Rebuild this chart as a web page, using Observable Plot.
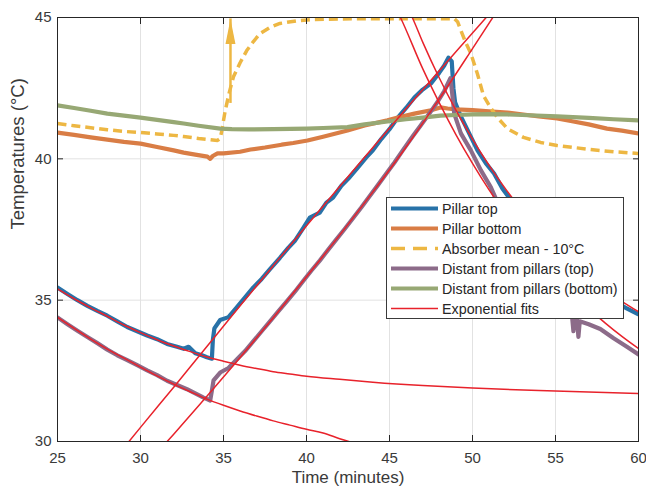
<!DOCTYPE html>
<html><head><meta charset="utf-8">
<script src="https://cdn.jsdelivr.net/npm/d3@7"></script>
<script src="https://cdn.jsdelivr.net/npm/@observablehq/plot@0.6"></script>
<style>
html,body{margin:0;padding:0;background:#fff;}
#chart{position:relative;width:646px;height:492px;font-family:"Liberation Sans",Arial,Helvetica,sans-serif;}
#legend{position:absolute;left:386px;top:197px;width:238px;height:122px;box-sizing:border-box;border:1px solid #3a3a3a;background:#fff;}
#legend svg{display:block;}
</style></head><body><div id="chart"></div>
<script>
// ---------- labels / ticks ----------
const xLabel = "Time (minutes)";
const yLabel = "Temperatures (°C)";
const xTicks = [25, 30, 35, 40, 45, 50, 55, 60];
const yTicks = [30, 35, 40, 45];
const seriesNames = ["Pillar top", "Pillar bottom", "Absorber mean - 10°C", "Distant from pillars (top)", "Distant from pillars (bottom)", "Exponential fits"];
const seriesColors = ["#2872a8", "#d97d45", "#edb743", "#8c6b89", "#97a874", "#e8222b"];

// ---------- Pillar top ----------
const pillarTopT = [25.0,25.6,26.2,26.8,27.4,28.0,28.6,29.2,29.8,30.4,31.0,31.6,32.2,32.6,32.9,33.3,33.7,34.0,34.3,34.36,34.45,34.8,35.3,35.8,36.3,36.8,37.3,37.8,38.4,38.9,39.3,39.8,40.2,40.8,41.2,41.6,42.1,42.6,43.1,43.6,44.0,44.5,45.0,45.5,46.0,46.5,47.0,47.5,48.0,48.3,48.55,48.75,48.85,48.95,49.3,49.8,50.3,50.8,51.3,51.8,52.2,53.0,54.0,55.0,56.0,57.0,58.0,59.2,60.0];
const pillarTopV = [35.45,35.22,35.0,34.8,34.62,34.45,34.25,34.05,33.9,33.75,33.62,33.45,33.35,33.28,33.35,33.12,33.05,32.98,32.93,33.6,34.0,34.3,34.4,34.75,35.1,35.45,35.75,36.1,36.5,36.85,37.1,37.55,37.92,38.1,38.45,38.63,39.05,39.35,39.7,40.05,40.3,40.7,41.05,41.46,41.8,42.17,42.45,42.67,43.05,43.3,43.58,43.45,42.5,42.0,41.5,40.9,40.3,39.85,39.48,38.95,38.63,38.0,37.3,36.6,36.05,35.55,35.15,34.74,34.5];

// ---------- Pillar bottom ----------
const pillarBottomT = [25,26,27,28,29,30,31,32,32.6,33.3,34.03,34.2,34.35,34.64,35,36,36.63,37.5,38.5,39.2,40.06,41,42.47,43.5,44.88,45.5,46.5,47.5,48.07,48.5,49,50,51,52.1,53.3,54,55.1,56,57,58.1,59,60];
const pillarBottomV = [40.93,40.85,40.76,40.68,40.6,40.54,40.42,40.3,40.22,40.15,40.08,40.0,40.1,40.19,40.19,40.25,40.33,40.4,40.5,40.56,40.65,40.78,41.0,41.18,41.36,41.46,41.6,41.72,41.82,41.78,41.75,41.72,41.68,41.64,41.55,41.5,41.43,41.33,41.22,41.07,41.0,40.9];

// ---------- Absorber mean - 10 °C ----------
const absorberT = [25,26,27,28,29,30,31,32,32.6,33.5,34.64,34.8,34.9,35.1,35.35,35.6,36.0,36.4,36.8,37.2,37.8,38.4,39.4,40.4,42,44,46,48.9,49.1,49.3,49.6,49.9,50.3,50.66,51.1,51.5,52.1,53.07,54.1,55.1,56.1,57.1,58.5,60];
const absorberV = [41.25,41.17,41.1,41.03,40.97,40.93,40.88,40.83,40.79,40.72,40.65,40.72,41.0,41.7,42.35,42.9,43.4,43.83,44.15,44.43,44.65,44.79,44.88,44.93,44.95,44.96,44.96,44.96,44.85,44.54,44.1,43.73,43.0,42.24,41.8,41.46,41.07,40.76,40.58,40.47,40.4,40.33,40.25,40.19];

// ---------- Distant from pillars (top) ----------
const distTopT = [25.0,25.6,26.2,26.8,27.4,28.0,28.6,29.2,29.8,30.4,31.0,31.6,32.2,32.8,33.3,33.8,34.2,34.3,34.4,34.8,35.3,35.8,36.3,36.8,37.3,37.8,38.3,38.8,39.3,39.8,40.3,40.8,41.3,41.8,42.3,42.8,43.3,43.8,44.3,44.8,45.3,45.8,46.4,46.9,47.4,47.9,48.3,48.67,48.8,48.9,49.3,49.9,50.5,51.1,51.4,52.0,53.0,54.0,55.0,55.7,56.0,56.08,56.15,56.3,56.38,56.46,57.0,57.7,58.5,59.3,60.0];
const distTopV = [34.39,34.15,33.92,33.7,33.48,33.25,33.05,32.88,32.7,32.52,32.35,32.15,32.0,31.85,31.7,31.55,31.45,31.8,32.16,32.44,32.6,32.9,33.2,33.55,33.9,34.25,34.6,34.95,35.3,35.68,36.05,36.4,36.78,37.15,37.52,37.9,38.28,38.68,39.07,39.47,39.87,40.3,40.8,41.2,41.6,42.02,42.4,42.85,42.2,41.6,40.9,40.3,39.6,39.0,38.6,38.0,37.1,36.3,35.5,34.9,34.4,33.9,34.35,34.3,33.7,34.25,34.15,33.98,33.65,33.35,33.08];

// ---------- Distant from pillars (bottom) ----------
const distBottomT = [25,26,27,28,29,30,31,32,32.6,33.5,34.8,35.5,36.5,38,40.06,41,42.47,43.5,44.88,46,47,48.07,49,50,51,52.1,53,55.1,57,58.5,60];
const distBottomV = [41.89,41.8,41.7,41.6,41.53,41.46,41.38,41.3,41.25,41.17,41.07,41.05,41.04,41.05,41.07,41.09,41.12,41.22,41.32,41.4,41.46,41.53,41.55,41.57,41.58,41.57,41.55,41.5,41.45,41.4,41.36];

// ---------- Exponential fits ----------
const fitTopCoolT = [25,26,27,28,29,30,31,32,33,34,35,36,37,38,39,40,42,44,47,50,54,60];
const fitTopCoolV = [35.4,35.05,34.73,34.43,34.12,33.85,33.6,33.38,33.18,32.99,32.84,32.7,32.58,32.47,32.39,32.31,32.2,32.1,31.98,31.89,31.8,31.7];
const fitDistCoolT = [25,26,27,28,29,30,31,32,33,34,35,36,37,38,39,40,41,42,43];
const fitDistCoolV = [34.39,34.0,33.62,33.27,32.95,32.63,32.32,32.03,31.76,31.5,31.28,31.08,30.9,30.73,30.58,30.43,30.3,30.1,29.92];
const fitTopHeatT = [29,30,32,34,36,38,40,42,44,46,48,50,51.5];
const fitTopHeatV = [29.78,30.5,31.92,33.36,34.8,36.22,37.63,39.02,40.4,41.77,43.12,44.45,45.45];
const fitDistHeatT = [31,32,34,36,38,40,42,44,46,48,50,51.5];
const fitDistHeatV = [29.6,30.26,31.6,32.97,34.38,35.83,37.3,38.83,40.42,42.12,43.9,45.25];
const fitTopDecayT = [46.2,46.37,47,48,49,50,51,52,53,54,55,56,57,58,59,60];
const fitTopDecayV = [45.2,45.0,44.13,42.86,41.72,40.7,39.77,38.93,38.17,37.49,36.87,36.32,35.82,35.37,34.96,34.59];
const fitDistDecayT = [45.45,45.66,47,48,49,50,51,52,53,54,55,56,57,58,59,60];
const fitDistDecayV = [45.25,45.0,43.19,41.98,40.86,39.84,38.9,38.04,37.25,36.53,35.86,35.26,34.7,34.19,33.72,33.29];

// ---------- Arrow (heater switched on) ----------
const arrowT = [35.42];
const arrowFrom = [41.96];
const arrowTo = [44.95];

// ---------- build ----------
const rows = (T, V) => T.map((t, i) => ({t, v: V[i]}));
const dataLine = (T, V, color, extra = {}) => Plot.line(rows(T, V), {x: "t", y: "v", stroke: color, strokeWidth: 4.2, strokeLinejoin: "round", strokeLinecap: "round", clip: true, ...extra});
const fitLine = (T, V) => Plot.line(rows(T, V), {x: "t", y: "v", stroke: seriesColors[5], strokeWidth: 1.5, curve: "monotone-x", clip: true});

const arrowRows = arrowT.map((t, i) => ({t, from: arrowFrom[i], to: arrowTo[i]}));
const headSymbol = {draw(ctx) { ctx.moveTo(0, 0); ctx.lineTo(-5, 25); ctx.lineTo(5, 25); ctx.closePath(); }};

const textColor = "#3a3a3a";
const chart = Plot.plot({
  width: 646, height: 492,
  marginLeft: 57, marginRight: 8, marginTop: 17, marginBottom: 51,
  style: {fontFamily: '"Liberation Sans", Arial, Helvetica, sans-serif', fontSize: "15px", color: textColor, background: "white"},
  x: {domain: [25, 60]},
  y: {domain: [30, 45]},
  marks: [
    Plot.gridX(xTicks, {stroke: "#e2e2e2", strokeOpacity: 1, strokeWidth: 1}),
    Plot.gridY(yTicks, {stroke: "#e2e2e2", strokeOpacity: 1, strokeWidth: 1}),
    dataLine(pillarTopT, pillarTopV, seriesColors[0]),
    dataLine(pillarBottomT, pillarBottomV, seriesColors[1]),
    dataLine(absorberT, absorberV, seriesColors[2], {strokeWidth: 3.5, strokeDasharray: "9,5", strokeLinecap: "butt"}),
    dataLine(distTopT, distTopV, seriesColors[3]),
    dataLine(distBottomT, distBottomV, seriesColors[4]),
    Plot.ruleX(arrowRows, {x: "t", y1: "from", y2: "to", stroke: seriesColors[2], strokeWidth: 2.5}),
    Plot.dot(arrowRows, {x: "t", y: "to", symbol: headSymbol, fill: seriesColors[2], stroke: "none"}),
    fitLine(fitTopCoolT, fitTopCoolV),
    fitLine(fitDistCoolT, fitDistCoolV),
    fitLine(fitTopHeatT, fitTopHeatV),
    fitLine(fitDistHeatT, fitDistHeatV),
    fitLine(fitTopDecayT, fitTopDecayV),
    fitLine(fitDistDecayT, fitDistDecayV),
    Plot.frame({stroke: "#262626", strokeWidth: 1}),
    Plot.axisX(xTicks, {anchor: "bottom", tickSize: 0, tickPadding: 11, label: null, fontSize: 15}),
    Plot.axisX(xTicks, {anchor: "bottom", tickSize: -6, fill: "none", label: null, stroke: "#262626"}),
    Plot.axisX(xTicks, {anchor: "top", tickSize: -6, fill: "none", label: null, stroke: "#262626"}),
    Plot.axisY(yTicks, {anchor: "left", tickSize: 0, tickPadding: 6, label: null, fontSize: 15}),
    Plot.axisY(yTicks, {anchor: "left", tickSize: -6, fill: "none", label: null, stroke: "#262626"}),
    Plot.axisY(yTicks, {anchor: "right", tickSize: -6, fill: "none", label: null, stroke: "#262626"}),
    Plot.text([xLabel], {text: d => d, frameAnchor: "bottom", dy: 41, fontSize: 17, fill: textColor}),
    Plot.text([yLabel], {text: d => d, frameAnchor: "left", dx: -39, rotate: -90, fontSize: 18.5, fill: textColor})
  ]
});
document.getElementById("chart").appendChild(chart);

// ---------- legend ----------
const legendWidths = [4, 4, 3.5, 4, 4, 1.5];
const legendDash = [null, null, "14,8", null, null, null];
const legend = d3.select("#chart").append("div").attr("id", "legend");
const lsvg = legend.append("svg").attr("width", 236).attr("height", 120);
seriesNames.forEach((name, i) => {
  const cy = 10.5 + i * 20;
  lsvg.append("line").attr("x1", 4).attr("x2", 51).attr("y1", cy).attr("y2", cy)
    .attr("stroke", seriesColors[i]).attr("stroke-width", legendWidths[i])
    .attr("stroke-dasharray", legendDash[i]);
  lsvg.append("text").attr("x", 55).attr("y", cy).attr("dy", "0.36em")
    .attr("font-size", 14.3).attr("fill", "#262626")
    .attr("font-family", '"Liberation Sans", Arial, Helvetica, sans-serif')
    .text(name);
});
</script></body></html>
